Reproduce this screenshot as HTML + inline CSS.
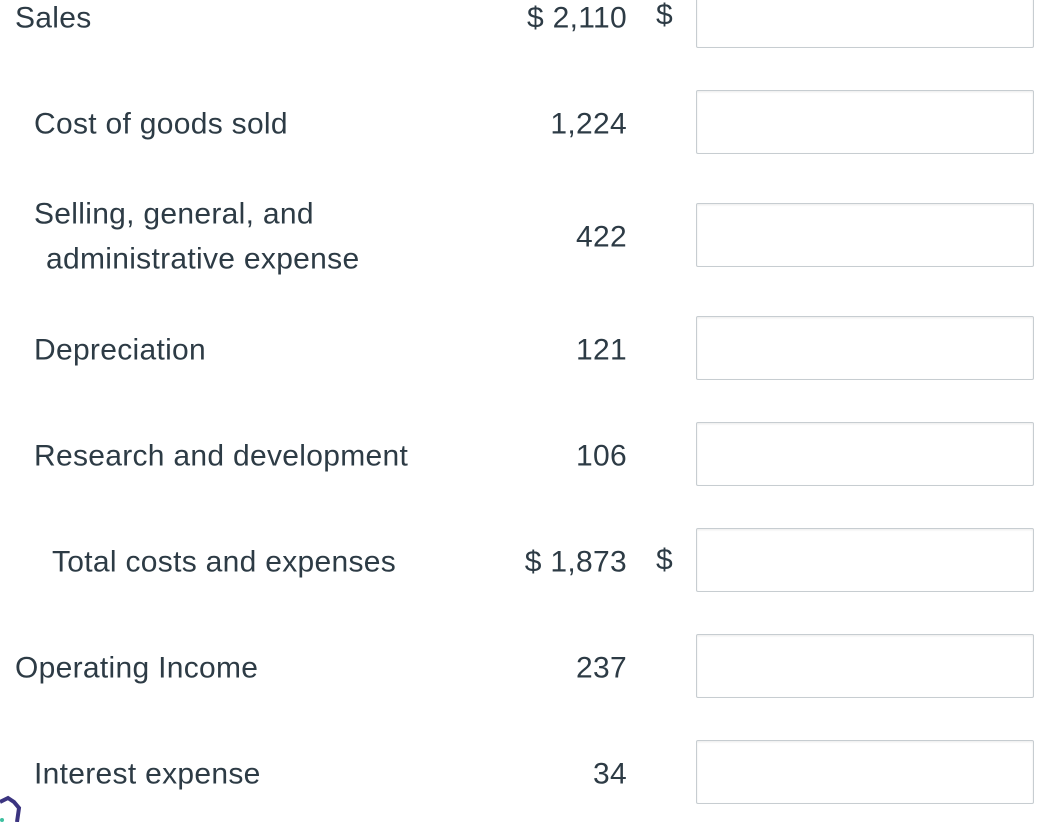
<!DOCTYPE html>
<html><head><meta charset="utf-8"><style>
html,body{margin:0;padding:0;background:#fff;width:1064px;height:822px;overflow:hidden;position:relative;font-family:"Liberation Sans",sans-serif;color:#2d3b45;}
.t{position:absolute;font-size:30px;letter-spacing:0.3px;line-height:34px;white-space:nowrap;transform:translateY(-49%);}
.v{position:absolute;right:437px;font-size:30px;letter-spacing:0.3px;line-height:34px;white-space:nowrap;transform:translateY(-49%);text-align:right;}
.d{position:absolute;left:656px;font-size:30px;line-height:34px;transform:translateY(-49%);}
.box{position:absolute;left:696px;width:336px;height:62px;border:1px solid #c7cdd1;border-radius:2px;box-shadow:inset 0 1px 2px rgba(0,0,0,0.08);background:#fff;}
</style></head><body>
<div class="t" style="left:15px;top:18px">Sales</div>
<div class="v" style="top:18px">$&nbsp;2,110</div>
<div class="d" style="top:15px">$</div>
<div class="box" style="top:-16px"></div>

<div class="t" style="left:34px;top:124px">Cost of goods sold</div>
<div class="v" style="top:124px">1,224</div>
<div class="box" style="top:90px"></div>

<div class="t" style="left:34px;top:214px">Selling, general, and</div>
<div class="t" style="left:46px;top:259px">administrative expense</div>
<div class="v" style="top:237px">422</div>
<div class="box" style="top:203px"></div>

<div class="t" style="left:34px;top:350px">Depreciation</div>
<div class="v" style="top:350px">121</div>
<div class="box" style="top:316px"></div>

<div class="t" style="left:34px;top:456px">Research and development</div>
<div class="v" style="top:456px">106</div>
<div class="box" style="top:422px"></div>

<div class="t" style="left:52px;top:562px">Total costs and expenses</div>
<div class="v" style="top:562px">$&nbsp;1,873</div>
<div class="d" style="top:560px">$</div>
<div class="box" style="top:528px"></div>

<div class="t" style="left:15px;top:668px">Operating Income</div>
<div class="v" style="top:668px">237</div>
<div class="box" style="top:634px"></div>

<div class="t" style="left:34px;top:774px">Interest expense</div>
<div class="v" style="top:774px">34</div>
<div class="box" style="top:740px"></div>

<svg style="position:absolute;left:0;top:790px" width="30" height="32">
<path d="M0 12 L8 8 L14 12 L19 18 L17 32" fill="none" stroke="#3b3480" stroke-width="4"/>
<circle cx="2" cy="30" r="2" fill="#3ec0a0"/>
</svg>
</body></html>
